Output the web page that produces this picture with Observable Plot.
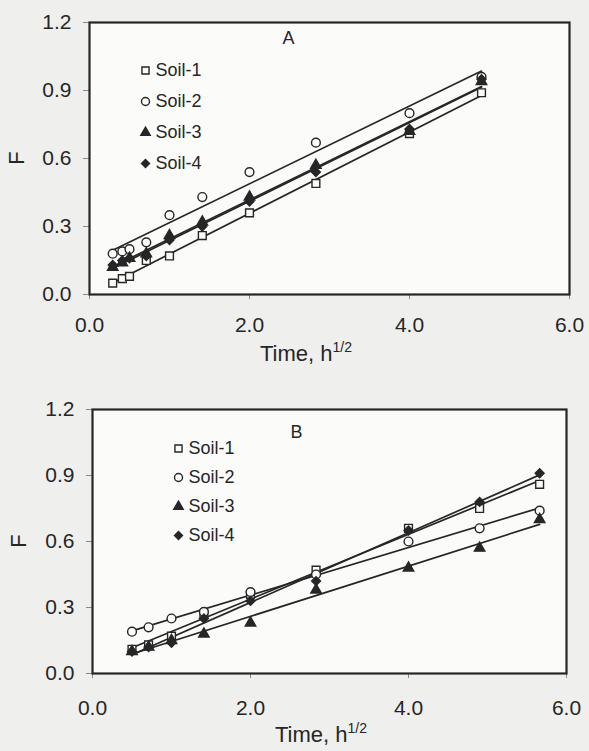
<!DOCTYPE html>
<html><head><meta charset="utf-8">
<script src="https://cdn.jsdelivr.net/npm/d3@7"></script>
<script src="https://cdn.jsdelivr.net/npm/@observablehq/plot@0.6"></script>
<style>
body{margin:0;background:#efefed;}
#chart{width:589px;}
svg{display:block;}
</style></head><body><div id="chart"></div>
<script>
// ---- data ----
const seriesNames = ["Soil-1", "Soil-2", "Soil-3", "Soil-4"];
const xTicks = [0, 2, 4, 6];
const yTicks = [0, 0.3, 0.6, 0.9, 1.2];

// Panel A
const timeA = [0.29, 0.41, 0.5, 0.71, 1.0, 1.41, 2.0, 2.83, 4.0, 4.9];
const soil1A = [0.05, 0.07, 0.08, 0.15, 0.17, 0.26, 0.36, 0.49, 0.71, 0.89];
const soil2A = [0.18, 0.19, 0.20, 0.23, 0.35, 0.43, 0.54, 0.67, 0.80, 0.96];
const soil3A = [0.12, 0.14, 0.16, 0.18, 0.26, 0.32, 0.43, 0.57, 0.72, 0.94];
const soil4A = [0.13, 0.15, 0.16, 0.17, 0.24, 0.30, 0.41, 0.54, 0.73, 0.95];

// Panel B
const timeB = [0.5, 0.71, 1.0, 1.41, 2.0, 2.83, 4.0, 4.9, 5.66];
const soil1B = [0.11, 0.13, 0.17, 0.27, 0.36, 0.47, 0.66, 0.75, 0.86];
const soil2B = [0.19, 0.21, 0.25, 0.28, 0.37, 0.45, 0.60, 0.66, 0.74];
const soil3B = [0.10, 0.12, 0.15, 0.18, 0.23, 0.38, 0.48, 0.57, 0.70];
const soil4B = [0.10, 0.12, 0.14, 0.25, 0.33, 0.42, 0.65, 0.78, 0.91];

// ---- styling ----
const ink = "#262626";
const paper = "#fbfbfa";
const styles = [
  {symbol: "square", fill: paper, stroke: ink, r: 4.4},
  {symbol: "circle", fill: paper, stroke: ink, r: 4.4},
  {symbol: "triangle", fill: ink, stroke: ink, r: 3.9},
  {symbol: "diamond2", fill: ink, stroke: ink, r: 4.0}
];

function toRows(time, arrays) {
  return arrays.map((arr, s) => time.map((t, i) => ({series: seriesNames[s], t, F: arr[i]})));
}

function panel(o) {
  const groups = toRows(o.time, o.arrays);
  const marks = [Plot.frame({fill: paper})];
  groups.forEach((rows, s) => {
    marks.push(Plot.linearRegressionY(rows, {x: "t", y: "F", ci: 0, stroke: ink, strokeWidth: 1.7}));
  });
  groups.forEach((rows, s) => {
    const st = styles[s];
    marks.push(Plot.dot(rows, {x: "t", y: "F", r: st.r, symbol: st.symbol, fill: st.fill, stroke: st.stroke, strokeWidth: 1.4}));
    // legend entry
    marks.push(Plot.dot([seriesNames[s]], {frameAnchor: "top-left", dx: o.legX, dy: o.legY + s * o.legStep,
      r: st.r - 0.4, symbol: st.symbol, fill: st.fill, stroke: st.stroke, strokeWidth: 1.4}));
    marks.push(Plot.text([seriesNames[s]], {frameAnchor: "top-left", dx: o.legX + 10, dy: o.legY + s * o.legStep,
      text: d => d, textAnchor: "start", lineAnchor: "middle", fontSize: 18, fill: ink}));
  });
  marks.push(Plot.text([o.letter], {frameAnchor: "top-left", dx: o.letX, dy: o.letY, text: d => d,
    lineAnchor: "middle", fontSize: 18, fill: ink}));
  marks.push(Plot.axisX({ticks: xTicks, tickFormat: d3.format(".1f"), tickSize: 5, tickPadding: o.xPad, label: null, stroke: "#888"}));
  marks.push(Plot.axisY({ticks: yTicks, tickFormat: d3.format(".1f"), tickSize: 6, tickPadding: 12, label: null, stroke: "#888"}));
  marks.push(Plot.frame({stroke: ink, strokeWidth: 2.2}));

  const svg = Plot.plot({
    width: 589, height: o.height,
    marginTop: o.mt, marginBottom: o.mb, marginLeft: o.ml, marginRight: o.mr,
    style: {fontFamily: "'Liberation Sans', Arial, sans-serif", fontSize: "21px", color: ink, background: "transparent"},
    x: {domain: [0, 6]},
    y: {domain: [0, 1.2]},
    marks
  });
  const sel = d3.select(svg);
  // y title
  sel.append("text")
    .attr("transform", `translate(${o.fX},${o.mt + (o.height - o.mt - o.mb) / 2}) rotate(-90)`)
    .attr("text-anchor", "middle").attr("dy", "0.35em")
    .attr("font-size", 22).attr("fill", ink).text("F");
  // x title with superscript
  const t = sel.append("text")
    .attr("x", o.tX).attr("y", o.tY)
    .attr("font-size", 22).attr("fill", ink);
  t.append("tspan").text("Time, h");
  t.append("tspan").attr("dy", -9).attr("font-size", 14).text("1/2");
  return svg;
}

const chart = document.getElementById("chart");
chart.appendChild(panel({
  time: timeA, arrays: [soil1A, soil2A, soil3A, soil4A], letter: "A",
  height: 375, mt: 22, mb: 81, ml: 89, mr: 20,
  legX: 56, legY: 48, legStep: 31, letX: 193, letY: 16, xPad: 18,
  fX: 16, tX: 306, tY: 361
}));
chart.appendChild(panel({
  time: timeB, arrays: [soil1B, soil2B, soil3B, soil4B], letter: "B",
  height: 376, mt: 34, mb: 78, ml: 92, mr: 23,
  legX: 86, legY: 39, legStep: 29, letX: 198, letY: 23, xPad: 22,
  fX: 18, tX: 321, tY: 367
}));
</script>
</body></html>
